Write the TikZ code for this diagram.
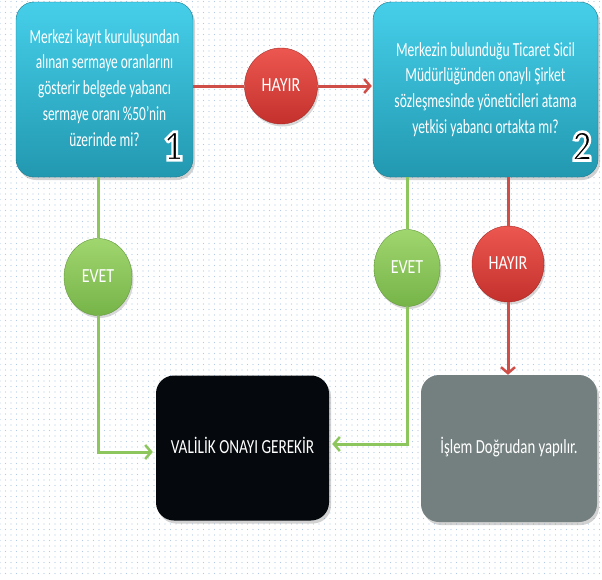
\documentclass[tikz,border=0pt]{standalone}
\usepackage{fontspec}
\setmainfont{Carlito}
\newfontface\numfont[FakeBold=6]{Carlito Bold}
\usepackage{graphicx}
\usetikzlibrary{arrows.meta,shapes.geometric,shadows,patterns.meta}
\definecolor{cyantop}{RGB}{70,207,234}
\definecolor{cyanbot}{RGB}{34,152,176}
\definecolor{redtop}{RGB}{236,88,80}
\definecolor{redbot}{RGB}{196,48,44}
\definecolor{greentop}{RGB}{160,214,110}
\definecolor{greenbot}{RGB}{118,180,72}
\definecolor{redline}{RGB}{208,78,72}
\definecolor{greenline}{RGB}{140,198,92}
\definecolor{grayfill}{RGB}{116,128,127}
\definecolor{blackfill}{RGB}{5,9,13}
\definecolor{dotcol}{RGB}{178,202,230}
\newcommand{\sqz}[2][0.67]{\scalebox{#1}[1]{\begin{tabular}{@{}c@{}}#2\end{tabular}}}
\newcommand{\bignum}[1]{\scalebox{0.88}[1]{\fontsize{44}{44}\numfont\color{black}\special{pdf:literal 1 1 1 RG}#1}}
\tikzset{
  qbox/.style={rounded corners=18pt, minimum width=#1, minimum height=175pt, inner sep=0pt,
    top color=cyantop, bottom color=cyanbot, draw=cyanbot!80!black, line width=0.4pt,
    text=white, drop shadow={opacity=0.35, shadow xshift=2pt, shadow yshift=-3pt}},
  abox/.style={rounded corners=18pt, minimum width=#1, minimum height=145pt, inner sep=0pt,
    text=white, drop shadow={opacity=0.35, shadow xshift=2pt, shadow yshift=-3pt}},
  nobub/.style={ellipse, inner sep=0pt, top color=redtop, bottom color=redbot, draw=redbot!85!black,
    text=white, drop shadow={opacity=0.3, shadow xshift=1.5pt, shadow yshift=-2.5pt}},
  yesbub/.style={ellipse, inner sep=0pt, top color=greentop, bottom color=greenbot, draw=greenbot!85!black,
    text=white, drop shadow={opacity=0.3, shadow xshift=1.5pt, shadow yshift=-2.5pt}},
  rline/.style={draw=redline, line width=3pt},
  gline/.style={draw=greenline, line width=3pt},
  tip/.style={-{Straight Barb[length=6pt,width=14pt,line width=2.5pt]}},
  numlbl/.style={inner sep=0pt}
}
\begin{document}
\begin{tikzpicture}[x=1pt,y=-1pt,font=\fontsize{20}{25.7}\selectfont]
\useasboundingbox (0,0) rectangle (602,579);
\fill[white] (0,0) rectangle (602,579);
\fill[pattern={Dots[distance=5.5pt,radius=0.6pt]}, pattern color=dotcol] (0,0) rectangle (602,574);

% question boxes
\node[qbox=177pt] (box1) at (104.5,89.5) {\raisebox{-3pt}{\sqz{Merkezi kayıt kuruluşundan\\ alınan sermaye oranlarını\\ gösterir belgede yabancı\\ sermaye oranı \%50’nin\\ üzerinde mi?}}};
\node[qbox=225pt] (box2) at (485.5,89.5) {\raisebox{-3pt}{\sqz[0.68]{Merkezin bulunduğu Ticaret Sicil\\ Müdürlüğünden onaylı Şirket\\ sözleşmesinde yöneticileri atama\\ yetkisi yabancı ortakta mı?}}};
\node[numlbl] (num1) at (173,146) {\bignum{1}};
\node[numlbl] (num2) at (582,146) {\bignum{2}};

% answer bubbles
\node[nobub, minimum width=73pt, minimum height=76pt] (hayir1) at (281,86) {\sqz[0.8]{HAYIR}};
\node[yesbub, minimum width=68pt, minimum height=77pt] (evet1) at (98,277) {\sqz[0.8]{EVET}};
\node[yesbub, minimum width=66pt, minimum height=77pt] (evet2) at (407,268) {\sqz[0.8]{EVET}};
\node[nobub, minimum width=72pt, minimum height=76pt] (hayir2) at (508,264) {\sqz[0.8]{HAYIR}};

% result boxes
\node[abox=173pt, fill=blackfill] (onay) at (242.5,448) {\sqz[0.76]{VALİLİK ONAYI GEREKİR}};
\node[abox=176pt, fill=grayfill, minimum height=147pt] (dogru) at (509,448.5) {\sqz[0.74]{İşlem Doğrudan yapılır.}};

% connectors
\draw[rline] (hayir1.west -| box1.east) -- (hayir1.west);
\draw[rline,tip] (hayir1.east) -- ([xshift=-1pt]hayir1.east -| box2.west);
\draw[gline] (evet1.north |- box1.south) -- (evet1.north);
\draw[gline,tip] (evet1.south) |- ([xshift=-3pt,yshift=-4pt]onay.west);
\draw[gline] (evet2.north |- box2.south) -- (evet2.north);
\draw[gline,tip] (evet2.south) |- ([xshift=3pt,yshift=4pt]onay.east);
\draw[rline] (hayir2.north |- box2.south) -- (hayir2.north);
\draw[rline,tip] (hayir2.south) -- (hayir2.south |- dogru.north);
\end{tikzpicture}
\end{document}
